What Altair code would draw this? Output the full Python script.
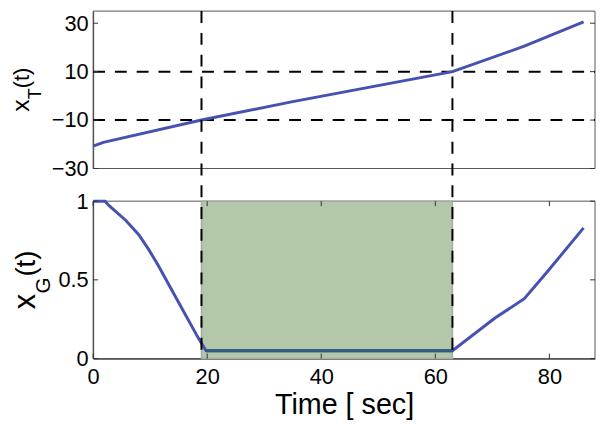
import altair as alt
import pandas as pd

# ---------------- data ----------------
top_t = [0, 1.8, 19, 35, 63, 75.6, 86]
top_x = [-20.8, -19.2, -10, -2.4, 10, 20.5, 30.5]

bot_t = [0, 2.1, 2.8, 5.7, 8, 9.7, 11.4, 14.9, 18.4, 19.8, 63, 70.4, 75.6, 79.6, 86]
bot_x = [1, 1, 0.971, 0.879, 0.787, 0.695, 0.593, 0.363, 0.133, 0.05, 0.05, 0.256, 0.38, 0.55, 0.83]

switch_t = [19, 63]          # vertical dashed lines / shaded interval
levels = [-10, 10]           # horizontal dashed thresholds in top panel

x_ticks = [0, 20, 40, 60, 80]
top_ticks = [-30, -10, 10, 30]
bot_ticks = [0, 0.5, 1]

x_domain = [0, 88]
top_domain = [-30, 35]
bot_domain = [0, 1]

# ---------------- layout / style ----------------
W = 507
H = 351
TOP = (0, 159)
BOT = (192, 351)
TICK = 5
FONT = "Liberation Sans"
BLUE = "#4652b0"
TEAL = "#2b5c7e"
GREEN = "#b3c8a8"
LBL = 22

top_df = pd.DataFrame({"t": top_t, "x": top_x})
bot_df = pd.DataFrame({"t": bot_t, "x": bot_x})
sw_df = pd.DataFrame({"t": switch_t})
lev_df = pd.DataFrame({"v": levels})
xt_df = pd.DataFrame({"t": x_ticks})
tt_df = pd.DataFrame({"v": top_ticks})
bt_df = pd.DataFrame({"v": bot_ticks})
patch_df = pd.DataFrame({"t": [switch_t[0]], "t2": [switch_t[1]],
                         "lo": [bot_domain[0]], "hi": [bot_domain[1]]})
one = pd.DataFrame({"a": [0]})

xs = alt.Scale(domain=x_domain, nice=False, zero=False)
ys_top = alt.Scale(domain=top_domain, range=[TOP[1], TOP[0]], nice=False, zero=False)
ys_bot = alt.Scale(domain=bot_domain, range=[BOT[1], BOT[0]], nice=False, zero=False)

xaxis = alt.Axis(values=x_ticks, ticks=False, labelFontSize=LBL, labelFont=FONT,
                 labelColor="black", labelPadding=8, labelFlush=False,
                 domainColor="black", domainWidth=1, grid=False,
                 title="Time [ sec]", titleFontSize=29, titleFont=FONT,
                 titleFontWeight="normal", titleColor="black", titlePadding=4,
                 format="d")
X = alt.X("t:Q", scale=xs, axis=xaxis)

yaxis_top = alt.Axis(orient="left", values=top_ticks, ticks=False, labelFontSize=LBL,
                     labelFont=FONT, labelColor="black", labelPadding=5,
                     labelFlush=False, domainColor="#333", grid=False, title=None,
                     format="d")
yaxis_bot = alt.Axis(orient="left", values=bot_ticks, ticks=False, labelFontSize=LBL,
                     labelFont=FONT, labelColor="black", labelPadding=5,
                     labelFlush=False, domainColor="#333", grid=False, title=None,
                     format=".1~f")

layers = []

# frames
for (y0, y1) in (TOP, BOT):
    layers.append(alt.Chart(one).mark_rect(filled=False, stroke="#555", strokeWidth=1).encode(
        x=alt.value(0), x2=alt.value(W), y=alt.value(y0), y2=alt.value(y1)))

# shaded interval
layers.append(alt.Chart(patch_df).mark_rect(fill=GREEN, stroke="#a9a9a9", strokeWidth=1.5).encode(
    x=X, x2="t2:Q", y=alt.Y("lo:Q", scale=ys_bot, axis=None), y2="hi:Q"))

# horizontal dashed thresholds
layers.append(alt.Chart(lev_df).mark_rule(color="black", strokeDash=[12, 10], strokeWidth=2).encode(
    y=alt.Y("v:Q", scale=ys_top, axis=None), x=alt.value(0), x2=alt.value(W)))

# series
layers.append(alt.Chart(top_df).mark_line(color=BLUE, strokeWidth=3).encode(
    x=X, y=alt.Y("x:Q", scale=ys_top, axis=yaxis_top)))
layers.append(alt.Chart(bot_df).mark_line(color=BLUE, strokeWidth=3).encode(
    x=X, y=alt.Y("x:Q", scale=ys_bot, axis=yaxis_bot)))
layers.append(alt.Chart(bot_df).mark_line(color=TEAL, strokeWidth=3).encode(
    x=X, y=alt.Y("x:Q", scale=ys_bot, axis=None)).transform_filter(
    f"datum.t >= {switch_t[0]} && datum.t <= {switch_t[1]}"))

# vertical dashed lines across both panels
layers.append(alt.Chart(sw_df).mark_rule(color="black", strokeDash=[12, 10], strokeWidth=2).encode(
    x=X, y=alt.value(TOP[0]), y2=alt.value(BOT[1])))

# inward ticks (MATLAB box style)
for df, sc in ((tt_df, ys_top), (bt_df, ys_bot)):
    for (a, b) in ((0, TICK), (W - TICK, W)):
        layers.append(alt.Chart(df).mark_rule(color="#333", strokeWidth=1).encode(
            y=alt.Y("v:Q", scale=sc, axis=None), x=alt.value(a), x2=alt.value(b)))
for (a, b) in ((BOT[1], BOT[1] - TICK), (BOT[0], BOT[0] + TICK)):
    layers.append(alt.Chart(xt_df).mark_rule(color="#333", strokeWidth=1).encode(
        x=X, y=alt.value(a), y2=alt.value(b)))


def label(text, size, xpos, ypos):
    return alt.Chart(pd.DataFrame({"s": [text]})).mark_text(
        angle=270, align="center", baseline="alphabetic", fontSize=size,
        font=FONT, color="black").encode(text="s:N", x=alt.value(xpos), y=alt.value(ypos))


c1 = (TOP[0] + TOP[1]) / 2
c2 = (BOT[0] + BOT[1]) / 2
layers += [
    label("x", 25, -65, c1 + 16),
    label("T", 18, -53, c1 + 4),
    label("(t)", 22, -65, c1 - 12),
    label("x", 31, -59, c2 + 22),
    label("G", 21, -44, c2 + 5.5),
    label("(t)", 28, -59, c2 - 16.5),
]

chart = alt.layer(*layers).resolve_scale(y="independent").properties(
    width=W, height=H,
    autosize=alt.AutoSizeParams(type="none"),
    padding={"left": 86, "top": 1, "right": 1, "bottom": 66},
).configure_view(stroke=None)

chart.save("out.html", embed_options={"renderer": "svg", "actions": False})
